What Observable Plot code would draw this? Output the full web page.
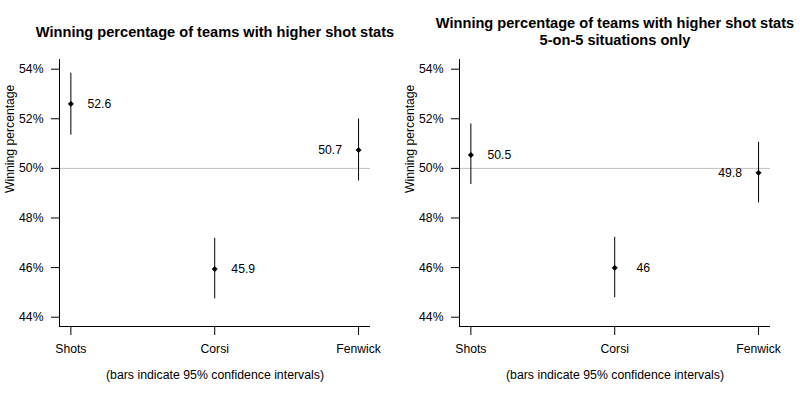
<!DOCTYPE html>
<html>
<head>
<meta charset="utf-8">
<script src="https://cdn.jsdelivr.net/npm/d3@7"></script>
<script src="https://cdn.jsdelivr.net/npm/@observablehq/plot@0.6"></script>
<style>
  html, body { margin: 0; padding: 0; background: #fff; }
  #wrap { display: flex; width: 800px; height: 400px; }
</style>
</head>
<body>
<div id="wrap"></div>
<script>
const categories = ["Shots", "Corsi", "Fenwick"];

// All situations
const allWin = [52.6, 45.94, 50.74];
const allLo = [51.34, 44.74, 49.49];
const allHi = [53.84, 47.18, 51.99];

// 5-on-5 only
const evWin = [50.54, 45.99, 49.82];
const evLo = [49.35, 44.78, 48.61];
const evHi = [51.79, 47.22, 51.05];

const yTicks = [44, 46, 48, 50, 52, 54];
const titles = [
  "Winning percentage of teams with higher shot stats",
  "Winning percentage of teams with higher shot stats\n5-on-5 situations only"
];
const yLabel = "Winning percentage";
const caption = "(bars indicate 95% confidence intervals)";

const xDomain = [-0.079, 2.083];
const yDomain = [43.625, 54.39];

function panel(win, lo, hi, title, twoLine) {
  const data = categories.map((c, i) => ({
    i, c, v: win[i], lo: lo[i], hi: hi[i],
    label: String(Math.round(win[i] * 10) / 10)
  }));
  const right = data.filter(d => d.i !== 2);
  const left = data.filter(d => d.i === 2);
  return Plot.plot({
    width: 400,
    height: 400,
    marginLeft: 59,
    marginRight: 30,
    marginTop: 59,
    marginBottom: 74,
    style: { fontFamily: "'Liberation Sans', Arial, sans-serif", fontSize: "12px", color: "#000", background: "#fff" },
    x: { type: "linear", domain: xDomain },
    y: { domain: yDomain },
    marks: [
      Plot.ruleY([50], { stroke: "#bebebe", strokeWidth: 1 }),
      Plot.ruleX([xDomain[0]], { stroke: "#000", strokeWidth: 1 }),
      Plot.ruleY([yDomain[0]], { stroke: "#000", strokeWidth: 1 }),
      Plot.axisY({ ticks: yTicks, tickFormat: d => d + "%", tickSize: 8, tickPadding: 8, label: null, fontSize: 12.2 }),
      Plot.axisX({ ticks: [0, 1, 2], tickFormat: i => categories[i], tickSize: 9, tickPadding: 9, label: null, fontSize: 12.2 }),
      Plot.ruleX(data, { x: "i", y1: "lo", y2: "hi", stroke: "#000", strokeWidth: 1 }),
      Plot.dot(data, { x: "i", y: "v", symbol: "diamond2", r: 2.4, fill: "#000", stroke: "#000", strokeWidth: 0.6 }),
      Plot.text(right, { x: "i", y: "v", text: "label", dx: 28.5, fontSize: 12.2, fill: "#000" }),
      Plot.text(left, { x: "i", y: "v", text: "label", dx: -28.5, fontSize: 12.2, fill: "#000" }),
      Plot.text([yLabel], { frameAnchor: "left", dx: -49, rotate: -90, fontSize: 12.2, fill: "#000" }),
      Plot.text([caption], { frameAnchor: "bottom", dy: 52, fontSize: 12.3, fill: "#000" }),
      Plot.text([title], { frameAnchor: "top", dy: twoLine ? -28.5 : -28, lineAnchor: "middle", lineHeight: 1.2, fontSize: 14.6, fontWeight: "bold", fill: "#000" })
    ]
  });
}

const wrap = document.getElementById("wrap");
wrap.appendChild(panel(allWin, allLo, allHi, titles[0], false));
wrap.appendChild(panel(evWin, evLo, evHi, titles[1], true));
</script>
</body>
</html>
